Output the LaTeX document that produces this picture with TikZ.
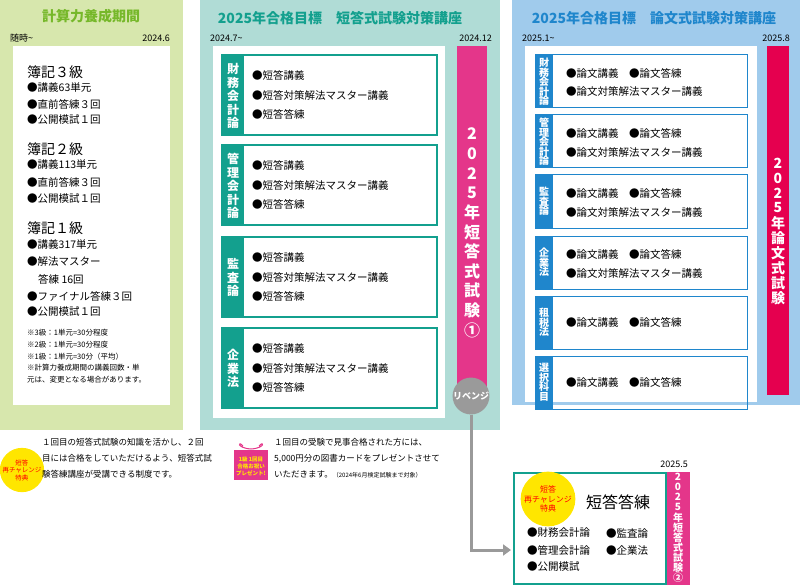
\documentclass[tikz,border=0pt]{standalone}
\usepackage{fontspec}
\setmainfont{Noto Sans CJK JP}
\usetikzlibrary{arrows.meta}
\definecolor{grnbg}{HTML}{D7E7AD}
\definecolor{grndk}{HTML}{76B82A}
\definecolor{tealbg}{HTML}{B0DCD6}
\definecolor{tealdk}{HTML}{13A08E}
\definecolor{bluebg}{HTML}{A0CBEC}
\definecolor{bluedk}{HTML}{1F86CC}
\definecolor{pinkbar}{HTML}{E4368A}
\definecolor{redbar}{HTML}{E5004F}
\definecolor{revgray}{HTML}{9A9A9A}
\definecolor{badgeyel}{HTML}{FFE600}
% vertical text: x, y of first char, step, font size, chars
\newcommand{\vtext}[5]{%
  \foreach \ch [count=\i from 0] in #5
    \node[vlabel,font=\bfseries\fontsize{#4}{#4}\selectfont] at (#1,#2+\i*#3) {\ch};}

\begin{document}
\begin{tikzpicture}[x=1pt,y=-1pt,
    item/.style={anchor=west,inner sep=0pt,font=\fontsize{10.5}{12}\selectfont},
    head/.style={anchor=west,inner sep=0pt,font=\fontsize{14}{16}\selectfont},
    note/.style={anchor=north west,inner sep=0pt,align=left,font=\fontsize{7.5}{12}\selectfont},
    date/.style={inner sep=0pt,font=\fontsize{9}{10}\selectfont},
    title/.style={inner sep=0pt,font=\bfseries\fontsize{14}{16}\selectfont},
    vlabel/.style={inner sep=0pt,text=white},
    badge/.style={circle,fill=badgeyel,inner sep=0pt,align=center,text=red}]
  \useasboundingbox (0,0) rectangle (800,588);

  % left column
  \fill[grnbg] (0,0) rectangle (183,430);
  \fill[white] (13,46) rectangle (170,405);
  \node[title,text=grndk] (t1) at (91,16) {計算力養成期間};
  \node[date,anchor=west] (d1a) at (10,38) {随時\textasciitilde};
  \node[date,anchor=east] (d1b) at (170,38) {2024.6};
  \node[head] (b3) at (27,72) {簿記３級};
  \node[item] (b3a) at (27,88) {●講義63単元};
  \node[item] (b3b) at (27,104) {●直前答練３回};
  \node[item] (b3c) at (27,120) {●公開模試１回};
  \node[head] (b2) at (27,149) {簿記２級};
  \node[item] (b2a) at (27,165) {●講義113単元};
  \node[item] (b2b) at (27,182) {●直前答練３回};
  \node[item] (b2c) at (27,199) {●公開模試１回};
  \node[head] (b1) at (27,228) {簿記１級};
  \node[item] (b1a) at (27,245) {●講義317単元};
  \node[item] (b1b) at (27,262) {●解法マスター};
  \node[item] (b1c) at (38,279) {答練 16回};
  \node[item] (b1d) at (27,296) {●ファイナル答練３回};
  \node[item] (b1e) at (27,312) {●公開模試１回};
  \node[note] (n1) at (27,329) {※3級：1単元=30分程度\\※2級：1単元=30分程度\\※1級：1単元=30分（平均）};
  \node[note] (n2) at (27,364) {※計算力養成期間の講義回数・単\\元は、変更となる場合があります。};

  % middle column
  \fill[tealbg] (200,0) rectangle (500,430);
  \fill[white] (213,46) rectangle (445,418);
  \node[title,text=tealdk] (t2) at (340,18) {2025年合格目標　短答式試験対策講座};
  \node[date,anchor=west] (d2a) at (210,38) {2024.7\textasciitilde};
  \node[date,anchor=east] (d2b) at (492,38) {2024.12};
  \foreach \top/\first/\lab in {55/69/{財,務,会,計,論},145/159/{管,理,会,計,論},237/264/{監,査,論},328/355/{企,業,法}}{
    \draw[tealdk,line width=1.2pt] (222,\top) rectangle (437,\top+80);
    \fill[tealdk] (222,\top) rectangle (244,\top+80);
    \vtext{233}{\first}{13.5}{12}{\lab}
    \node[item] at (252,\top+20) {●短答講義};
    \node[item] at (252,\top+40) {●短答対策解法マスター講義};
    \node[item] at (252,\top+59) {●短答答練};
  }
  \fill[pinkbar] (457,46) rectangle (487,395);
  \vtext{472}{134}{19.6}{16}{{2,0,2,5,年,短,答,式,試,験,①}}
  \node[circle,fill=revgray,minimum size=34pt,inner sep=0pt,text=white,
    font=\bfseries\fontsize{9}{10}\selectfont] (rev) at (471,396) {リベンジ};

  % right column
  \fill[bluebg] (512,0) rectangle (800,405);
  \fill[white] (525,46) rectangle (757,402);
  \node[title,text=bluedk] (t3) at (654,18) {2025年合格目標　論文式試験対策講座};
  \node[date,anchor=west] (d3a) at (522,38) {2025.1\textasciitilde};
  \node[date,anchor=east] (d3b) at (790,38) {2025.8};
  \foreach \top/\first/\lab/\two in {55/63/{財,務,会,計,論}/1,115/123/{管,理,会,計,論}/1,175/192/{監,査,論}/1,
      236/253/{企,業,法}/1,296/313/{租,税,法}/0,356/368/{選,択,科,目}/0}{
    \draw[bluedk,line width=1pt] (535,\top) rectangle (747,\top+53);
    \fill[bluedk] (535,\top) rectangle (553,\top+53);
    \vtext{544}{\first}{9.5}{10}{\lab}
    \ifnum\two=1
      \node[item] at (566,\top+18) {●論文講義　●論文答練};
      \node[item] at (566,\top+37) {●論文対策解法マスター講義};
    \else
      \node[item] at (566,\top+26) {●論文講義　●論文答練};
    \fi
  }
  \fill[redbar] (767,46) rectangle (789,395);
  \vtext{778}{163}{15}{14}{{2,0,2,5,年,論,文,式,試,験}}

  % bottom notes
  \node[badge,minimum size=34pt,font=\fontsize{6.5}{7.5}\selectfont] (bad1) at (22,470) {短答\\再チャレンジ\\特典};
  \node[note,font=\fontsize{8.5}{16}\selectfont] (txt1) at (42,438)
    {１回目の短答式試験の知識を活かし、２回\\目には合格をしていただけるよう、短答式試\\験答練講座が受講できる制度です。};
  \fill[pinkbar] (234,450) rectangle (268,480);
  \node[inner sep=0pt,align=center,text=badgeyel,font=\bfseries\fontsize{5.5}{7}\selectfont]
    (gift) at (251,466) {1級 1回目\\合格お祝い\\プレゼント!};
  \draw[pinkbar,line width=1pt] (243,446) .. controls (238,440) and (236,448) .. (251,449)
    .. controls (266,448) and (264,440) .. (259,446);
  \node[note,font=\fontsize{8.5}{16}\selectfont] (txt2) at (274,438)
    {１回目の受験で見事合格された方には、\\5,000円分の図書カードをプレゼントさせて\\いただきます。{\fontsize{6}{7}\selectfont（2024年6月検定試験まで対象）}};

  % bottom right
  \draw[tealdk,line width=1.2pt] (514,473) rectangle (666,584);
  \fill[pinkbar] (667,472) rectangle (690,585);
  \node[date,anchor=east] (d4) at (688,464) {2025.5};
  \vtext{678}{477}{10.1}{10}{{2,0,2,5,年,短,答,式,試,験,②}}
  \node[badge,minimum size=42pt,font=\fontsize{8}{9.5}\selectfont] (bad2) at (548,499) {短答\\再チャレンジ\\特典};
  \node[inner sep=0pt,font=\fontsize{16}{18}\selectfont] (tanren) at (618,502) {短答答練};
  \node[item] (r1) at (527,533) {●財務会計論};
  \node[item] (r2) at (606,533) {●監査論};
  \node[item] (r3) at (527,550) {●管理会計論};
  \node[item] (r4) at (606,550) {●企業法};
  \node[item] (r5) at (527,567) {●公開模試};

  % revenge arrow
  \coordinate (arr) at (511,550);
  \draw[revgray,line width=3pt,-{Triangle[length=8pt,width=11pt]}] (rev.south) |- (arr);
\end{tikzpicture}
\end{document}
